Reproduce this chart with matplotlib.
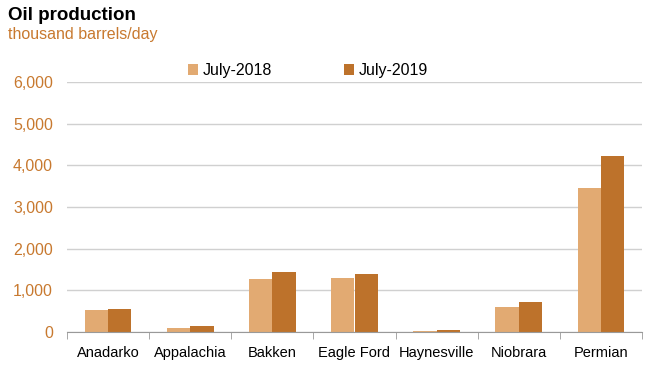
import matplotlib.pyplot as plt
import numpy as np

plt.rcParams["font.family"] = ["Liberation Sans", "DejaVu Sans"]

basins = ["Anadarko", "Appalachia", "Bakken", "Eagle Ford", "Haynesville", "Niobrara", "Permian"]
jul_2018 = [530, 100, 1280, 1300, 35, 600, 3445]
jul_2019 = [555, 140, 1445, 1390, 45, 725, 4220]
yticks = [0, 1000, 2000, 3000, 4000, 5000, 6000]

light = "#E2AA72"
dark = "#BD722B"
orange_txt = "#C8792F"

fig = plt.figure(figsize=(6.53, 3.81), dpi=100)
ax = fig.add_axes([67 / 653, 1 - 332 / 381, 575 / 653, 250 / 381])

x = np.arange(len(basins))
w = 0.285
ax.bar(x - w / 2, jul_2018, w, color=light, label="July-2018", zorder=3)
ax.bar(x + w / 2, jul_2019, w, color=dark, label="July-2019", zorder=3)

ax.set_xlim(-0.5, len(basins) - 0.5)
ax.set_ylim(0, 6000)
ax.set_yticks(yticks)
ax.set_yticklabels([f"{v:,}" for v in yticks], color=orange_txt, fontsize=11.5)
ax.tick_params(axis="y", length=0, pad=10)
ax.grid(axis="y", color="#D0D0D0", linewidth=1, zorder=0)

ax.set_xticks(x)
ax.set_xticklabels(basins, fontsize=10.5)
ax.set_xticks(np.arange(len(basins) + 1) - 0.5, minor=True)
ax.tick_params(axis="x", which="major", length=0, pad=10)
ax.tick_params(axis="x", which="minor", length=5, color="#999999", direction="out")

for s in ["left", "right", "top"]:
    ax.spines[s].set_visible(False)
ax.spines["bottom"].set_color("#999999")
ax.spines["bottom"].set_zorder(4)

ax.legend(loc="center", bbox_to_anchor=(0.419, 1.045), ncol=2, frameon=False,
          fontsize=11.5, handlelength=0.65, handleheight=0.65, handletextpad=0.3,
          columnspacing=4.45)

fig.text(8 / 653, 1 - 16 / 381, "Oil production", fontsize=13.5, fontweight="bold", va="center")
fig.text(8 / 653, 1 - 34 / 381, "thousand barrels/day", fontsize=11.5, color=orange_txt, va="center")

fig.savefig("out.png", dpi=100)
